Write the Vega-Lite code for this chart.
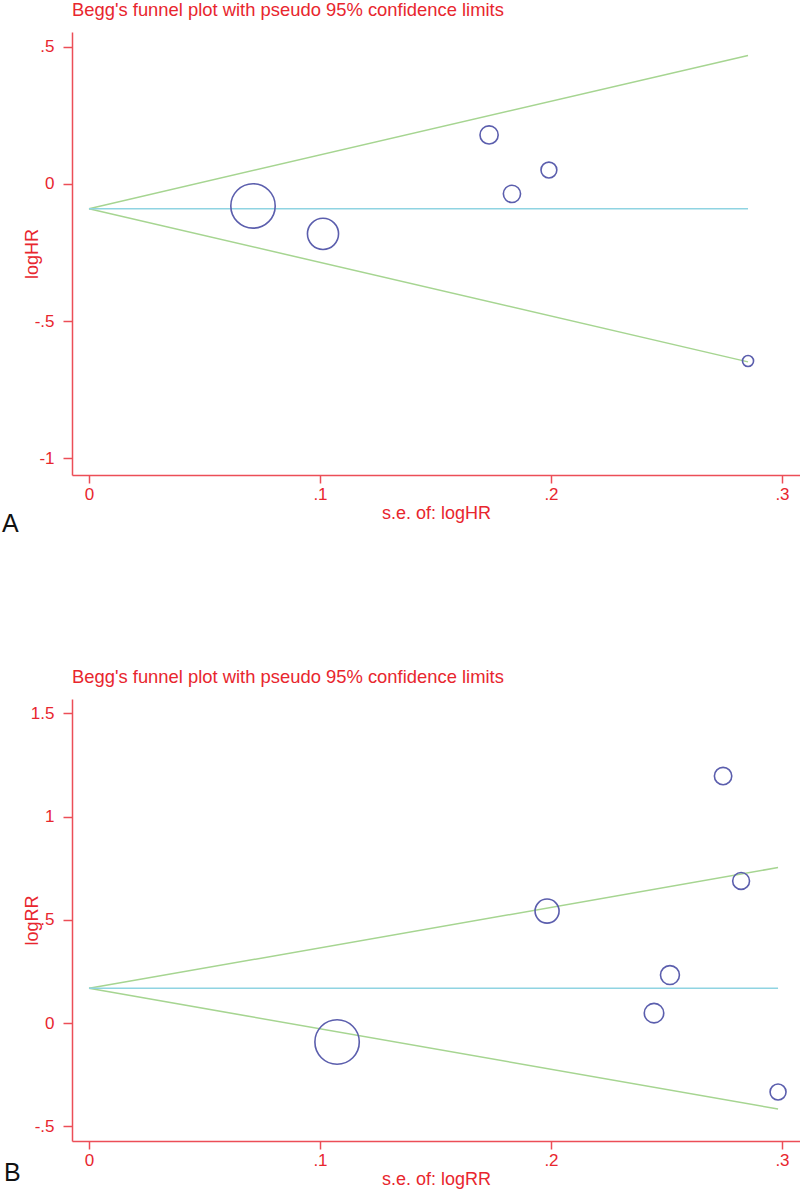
{
  "$schema": "https://vega.github.io/schema/vega-lite/v6.json",
  "padding": {"left": 72, "top": 32, "right": 728, "bottom": 1158},
  "autosize": {"type": "none"},
  "background": "white",
  "bounds": "flush",
  "spacing": 224,
  "config": {
    "view": {"stroke": null},
    "font": "Liberation Sans",
    "axis": {
      "grid": false,
      "domainColor": "#ec4e57",
      "tickColor": "#ec4e57",
      "domainWidth": 1.5,
      "tickWidth": 1.5,
      "labelColor": "#e8262e",
      "titleColor": "#e8262e",
      "labelFont": "Liberation Sans",
      "titleFont": "Liberation Sans",
      "labelFontSize": 17,
      "titleFontSize": 18,
      "titleFontWeight": "normal"
    },
    "title": {"color": "#e8262e", "fontSize": 18.4, "fontWeight": "normal", "font": "Liberation Sans", "anchor": "start", "frame": "group", "offset": 13, "baseline": "alphabetic"}
  },
  "resolve": {"scale": {"x": "independent", "y": "independent", "size": "independent", "color": "independent"}},
  "datasets": {
    "studiesA": [
      {"se": 0.0710, "logHR": -0.080, "w": 198.4},
      {"se": 0.1013, "logHR": -0.182, "w": 97.5},
      {"se": 0.1732, "logHR": 0.179, "w": 33.3},
      {"se": 0.1831, "logHR": -0.036, "w": 29.8},
      {"se": 0.1991, "logHR": 0.051, "w": 25.2},
      {"se": 0.2853, "logHR": -0.646, "w": 12.3}
    ],
    "linesA": [
      {"part": "upper", "se": 0, "v": -0.09},
      {"part": "upper", "se": 0.2853, "v": 0.4692},
      {"part": "lower", "se": 0, "v": -0.09},
      {"part": "lower", "se": 0.2853, "v": -0.6492},
      {"part": "pooled", "se": 0, "v": -0.09},
      {"part": "pooled", "se": 0.2853, "v": -0.09}
    ],
    "studiesB": [
      {"se": 0.1074, "logRR": -0.092, "w": 86.7},
      {"se": 0.1983, "logRR": 0.542, "w": 25.4},
      {"se": 0.2745, "logRR": 1.196, "w": 13.3},
      {"se": 0.2823, "logRR": 0.688, "w": 12.5},
      {"se": 0.2515, "logRR": 0.232, "w": 15.8},
      {"se": 0.2446, "logRR": 0.048, "w": 16.7},
      {"se": 0.2983, "logRR": -0.334, "w": 11.2}
    ],
    "linesB": [
      {"part": "upper", "se": 0, "v": 0.168},
      {"part": "upper", "se": 0.2983, "v": 0.7527},
      {"part": "lower", "se": 0, "v": 0.168},
      {"part": "lower", "se": 0.2983, "v": -0.4167},
      {"part": "pooled", "se": 0, "v": 0.168},
      {"part": "pooled", "se": 0.2983, "v": 0.168}
    ],
    "panelA": [{"label": "A"}],
    "panelB": [{"label": "B"}]
  },
  "vconcat": [
    {
      "width": 728,
      "height": 443,
      "title": {"text": "Begg's funnel plot with pseudo 95% confidence limits"},
      "layer": [
        {
          "data": {"name": "linesA"},
          "mark": {"type": "line", "strokeWidth": 1.5},
          "encoding": {
            "x": {
              "field": "se", "type": "quantitative",
              "scale": {"domain": [-0.00736, 0.3078], "nice": false, "zero": false},
              "axis": {"title": "s.e. of: logHR", "values": [0, 0.1, 0.2, 0.3], "labelExpr": "replace(toString(datum.value), '0.', '.')", "tickSize": 8, "labelPadding": 3, "titlePadding": 2}
            },
            "y": {"field": "v", "type": "quantitative", "title": "logHR",
              "scale": {"domain": [-1.062, 0.5547], "nice": false, "zero": false},
              "axis": {"values": [0.5, 0, -0.5, -1], "labelExpr": "replace(toString(datum.value), '0.', '.')", "tickSize": 9, "labelPadding": 9, "titlePadding": -7}},
            "color": {"field": "part", "type": "nominal", "scale": {"domain": ["upper", "lower", "pooled"], "range": ["#a6d591", "#a6d591", "#8fd4e2"]}, "legend": null},
            "detail": {"field": "part"}
          }
        },
        {
          "data": {"name": "studiesA"},
          "mark": {"type": "point", "shape": "circle", "filled": false, "color": "#5b5ead", "strokeWidth": 1.6, "opacity": 1},
          "encoding": {
            "x": {"field": "se", "type": "quantitative", "title": "s.e. of: logHR"},
            "y": {"field": "logHR", "type": "quantitative", "title": "logHR"},
            "size": {"field": "w", "type": "quantitative", "scale": {"domain": [0, 198.4], "range": [0, 1970]}, "legend": null}
          }
        },
        {
          "data": {"name": "panelA"},
          "mark": {"type": "text", "fontSize": 25, "color": "#111111", "align": "left", "baseline": "alphabetic", "font": "Liberation Sans", "clip": false},
          "encoding": {
            "x": {"datum": -0.0377, "type": "quantitative"},
            "y": {"datum": -1.27, "type": "quantitative"},
            "text": {"field": "label", "type": "nominal"}
          }
        }
      ]
    },
    {
      "width": 728,
      "height": 442,
      "title": {"text": "Begg's funnel plot with pseudo 95% confidence limits"},
      "layer": [
        {
          "data": {"name": "linesB"},
          "mark": {"type": "line", "strokeWidth": 1.5},
          "encoding": {
            "x": {
              "field": "se", "type": "quantitative",
              "scale": {"domain": [-0.00736, 0.3078], "nice": false, "zero": false},
              "axis": {"title": "s.e. of: logRR", "values": [0, 0.1, 0.2, 0.3], "labelExpr": "replace(toString(datum.value), '0.', '.')", "tickSize": 8, "labelPadding": 3, "titlePadding": 2}
            },
            "y": {"field": "v", "type": "quantitative", "title": "logRR",
              "scale": {"domain": [-0.5714, 1.569], "nice": false, "zero": false},
              "axis": {"values": [1.5, 1, 0.5, 0, -0.5], "labelExpr": "replace(toString(datum.value), '0.', '.')", "tickSize": 9, "labelPadding": 9, "titlePadding": -11}},
            "color": {"field": "part", "type": "nominal", "scale": {"domain": ["upper", "lower", "pooled"], "range": ["#a6d591", "#a6d591", "#8fd4e2"]}, "legend": null},
            "detail": {"field": "part"}
          }
        },
        {
          "data": {"name": "studiesB"},
          "mark": {"type": "point", "shape": "circle", "filled": false, "color": "#5b5ead", "strokeWidth": 1.6, "opacity": 1},
          "encoding": {
            "x": {"field": "se", "type": "quantitative", "title": "s.e. of: logRR"},
            "y": {"field": "logRR", "type": "quantitative", "title": "logRR"},
            "size": {"field": "w", "type": "quantitative", "scale": {"domain": [0, 86.7], "range": [0, 1970]}, "legend": null}
          }
        },
        {
          "data": {"name": "panelB"},
          "mark": {"type": "text", "fontSize": 25, "color": "#111111", "align": "left", "baseline": "alphabetic", "font": "Liberation Sans", "clip": false},
          "encoding": {
            "x": {"datum": -0.0368, "type": "quantitative"},
            "y": {"datum": -0.765, "type": "quantitative"},
            "text": {"field": "label", "type": "nominal"}
          }
        }
      ]
    }
  ]
}
